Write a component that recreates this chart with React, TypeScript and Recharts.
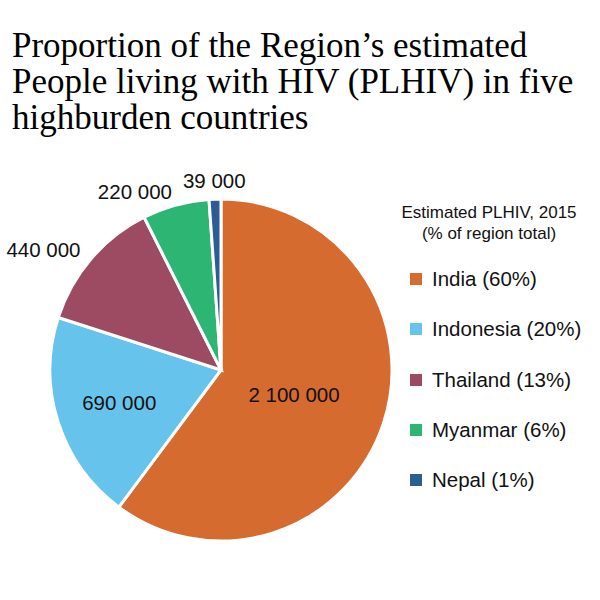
import { Cell, Legend, Pie, PieChart } from "recharts";

const countries = ["India", "Indonesia", "Thailand", "Myanmar", "Nepal"];
const plhiv = [2100000, 690000, 440000, 220000, 39000];
const shares = [60, 20, 13, 6, 1];
const valueLabels = ["2 100 000", "690 000", "440 000", "220 000", "39 000"];
const colors = ["#D66B30", "#66C3EB", "#9C4B62", "#2DB573", "#2B5C95"];

const titleLines = [
  "Proportion of the Region\u2019s estimated",
  "People living with HIV (PLHIV) in five",
  "highburden countries",
];
const SANS = "'Liberation Sans', Arial, sans-serif";
const RAD = Math.PI / 180;

const data = countries.map((name, i) => ({ name, value: plhiv[i], share: shares[i] }));

function renderLabel(props: any) {
  const { cx, cy, midAngle, outerRadius, startAngle, endAngle, index } = props;
  const inside = index < 2;
  const cos = Math.cos(-midAngle * RAD);
  const anchor = inside ? "middle" : cos < -0.1 ? "end" : "middle";
  let r = outerRadius + (anchor === "end" ? 14 : 19);
  if (inside) {
    // sector centroid, but not too close to the middle
    const half = (Math.abs(endAngle - startAngle) / 2) * RAD;
    const centroid = ((2 / 3) * outerRadius * Math.sin(half)) / half;
    r = Math.max(centroid, outerRadius * 0.45);
  }
  const x = cx + r * cos;
  const y = cy + r * Math.sin(-midAngle * RAD);
  return (
    <text x={x} y={y} textAnchor={anchor} dominantBaseline="central" fill="#111" fontSize={20.5} fontFamily={SANS}>
      {valueLabels[index]}
    </text>
  );
}

function LegendBox() {
  return (
    <div style={{ fontFamily: SANS, color: "#111" }}>
      <div style={{ fontSize: 17, lineHeight: "21px", textAlign: "center", width: 190, marginLeft: -16 }}>
        Estimated PLHIV, 2015
        <br />
        (% of region total)
      </div>
      <div style={{ marginTop: 10 }}>
        {data.map((d, i) => (
          <div key={d.name} style={{ display: "flex", alignItems: "center", height: 50.3 }}>
            <span style={{ width: 12, height: 12, background: colors[i], marginRight: 10, display: "inline-block" }} />
            <span style={{ fontSize: 20.5 }}>
              {d.name} ({d.share}%)
            </span>
          </div>
        ))}
      </div>
    </div>
  );
}

export default function App() {
  return (
    <div style={{ position: "absolute", left: 0, top: 0, width: 600, height: 600, background: "#fff" }}>
      <div
        style={{
          position: "absolute",
          left: 12,
          top: 28,
          fontFamily: "'Liberation Serif', 'Times New Roman', serif",
          fontSize: 35,
          lineHeight: "36px",
          color: "#000",
          whiteSpace: "nowrap",
        }}
      >
        {titleLines.map((line) => (
          <div key={line}>{line}</div>
        ))}
      </div>
      <div style={{ position: "absolute", left: 0, top: 0 }}>
        <PieChart width={600} height={600} margin={{ top: 0, right: 0, bottom: 0, left: 0 }}>
          <Pie
            data={data}
            dataKey="value"
            nameKey="name"
            cx={221}
            cy={370}
            outerRadius={171}
            startAngle={90}
            endAngle={-270}
            stroke="#fff"
            strokeWidth={3}
            label={renderLabel}
            labelLine={false}
            isAnimationActive={false}
          >
            {data.map((d, i) => (
              <Cell key={d.name} fill={colors[i]} />
            ))}
          </Pie>
          <Legend
            layout="vertical"
            verticalAlign="middle"
            align="right"
            content={() => <LegendBox />}
            wrapperStyle={{ left: 410, top: 202, width: 190 }}
          />
        </PieChart>
      </div>
    </div>
  );
}
